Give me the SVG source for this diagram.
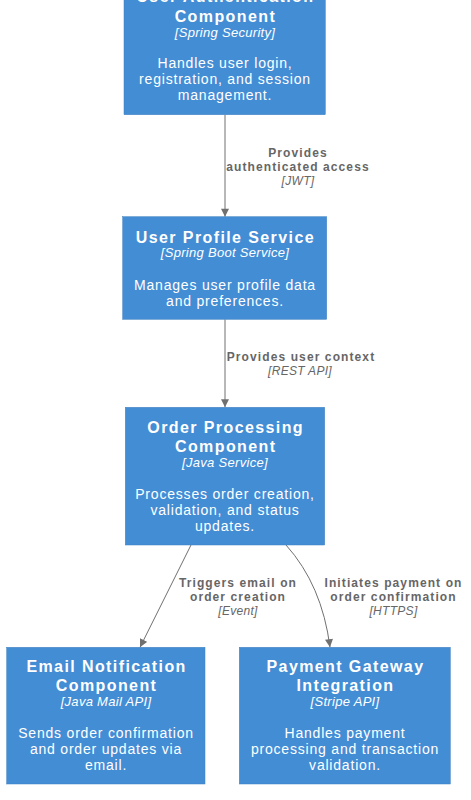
<svg xmlns="http://www.w3.org/2000/svg" width="471" height="800" viewBox="0 0 471 800">
<style>
.box{fill:#438dd5;stroke:#3c7fc0;stroke-width:0.5}
.t{font-family:"Liberation Sans",Arial,sans-serif;font-weight:bold;font-size:16px;fill:#ffffff;text-anchor:middle;letter-spacing:1.4px}
.k{font-family:"Liberation Sans",Arial,sans-serif;font-style:italic;font-size:13px;fill:#ffffff;text-anchor:middle;letter-spacing:0.3px}
.d{font-family:"Liberation Sans",Arial,sans-serif;font-size:14px;fill:#ffffff;text-anchor:middle;letter-spacing:0.8px}
.el{font-family:"Liberation Sans",Arial,sans-serif;font-weight:bold;font-size:12px;fill:#666666;text-anchor:middle;letter-spacing:1.1px}
.ek{font-family:"Liberation Sans",Arial,sans-serif;font-style:italic;font-size:12px;fill:#666666;text-anchor:middle;letter-spacing:0.3px}
.ln{fill:none;stroke:#707070;stroke-width:1}
</style>
<defs>
<marker id="arr" viewBox="0 0 10 10" refX="10" refY="5" markerWidth="9" markerHeight="8" markerUnits="userSpaceOnUse" orient="auto">
<path d="M0,0 L10,5 L0,10 z" fill="#707070"/>
</marker>
</defs>
<rect width="471" height="800" fill="#ffffff"/>
<g id="connectors">
<line class="ln" x1="225" y1="114.7" x2="225" y2="216.7" marker-end="url(#arr)"/>
<line class="ln" x1="225" y1="319.3" x2="225" y2="407.3" marker-end="url(#arr)"/>
<line class="ln" x1="191" y1="545" x2="140" y2="647.3" marker-end="url(#arr)"/>
<path class="ln" d="M286,545 Q322,585 330,647.3" marker-end="url(#arr)"/>
<text class="el" x="298" y="157">Provides</text>
<text class="el" x="298" y="171">authenticated access</text>
<text class="ek" x="298" y="185">[JWT]</text>
<text class="el" x="301" y="360.5">Provides user context</text>
<text class="ek" x="300" y="374.5">[REST API]</text>
<text class="el" x="238" y="587">Triggers email on</text>
<text class="el" x="238" y="601">order creation</text>
<text class="ek" x="238" y="615">[Event]</text>
<text class="el" x="393.5" y="587">Initiates payment on</text>
<text class="el" x="393.5" y="601">order confirmation</text>
<text class="ek" x="393.5" y="615">[HTTPS]</text>
</g>
<g id="node-auth">
<rect class="box" x="124" y="-23" width="201.3" height="137.7"/>
<text class="t" x="225.4" y="2">User Authentication</text>
<text class="t" x="225.4" y="22">Component</text>
<text class="k" x="225" y="36.5">[Spring Security]</text>
<text class="d" x="225" y="68">Handles user login,</text>
<text class="d" x="225" y="84">registration, and session</text>
<text class="d" x="225" y="100">management.</text>
</g>
<g id="node-profile">
<rect class="box" x="122.7" y="216.7" width="204" height="102.6"/>
<text class="t" x="225.4" y="243.3">User Profile Service</text>
<text class="k" x="225" y="257">[Spring Boot Service]</text>
<text class="d" x="225" y="290">Manages user profile data</text>
<text class="d" x="225" y="305.5">and preferences.</text>
</g>
<g id="node-order">
<rect class="box" x="125.3" y="407.3" width="199.4" height="137.7"/>
<text class="t" x="225.7" y="433">Order Processing</text>
<text class="t" x="225.7" y="452">Component</text>
<text class="k" x="225" y="467">[Java Service]</text>
<text class="d" x="225" y="499">Processes order creation,</text>
<text class="d" x="225" y="515">validation, and status</text>
<text class="d" x="225" y="530.5">updates.</text>
</g>
<g id="node-email">
<rect class="box" x="6.7" y="647.3" width="198.3" height="136.7"/>
<text class="t" x="106.6" y="672">Email Notification</text>
<text class="t" x="106.6" y="691">Component</text>
<text class="k" x="106" y="706">[Java Mail API]</text>
<text class="d" x="106" y="738">Sends order confirmation</text>
<text class="d" x="106" y="754">and order updates via</text>
<text class="d" x="106" y="770">email.</text>
</g>
<g id="node-payment">
<rect class="box" x="239.3" y="647.3" width="211" height="136.7"/>
<text class="t" x="345.5" y="672">Payment Gateway</text>
<text class="t" x="345.5" y="691">Integration</text>
<text class="k" x="345" y="706">[Stripe API]</text>
<text class="d" x="345" y="738">Handles payment</text>
<text class="d" x="345" y="754">processing and transaction</text>
<text class="d" x="345" y="770">validation.</text>
</g>
</svg>
